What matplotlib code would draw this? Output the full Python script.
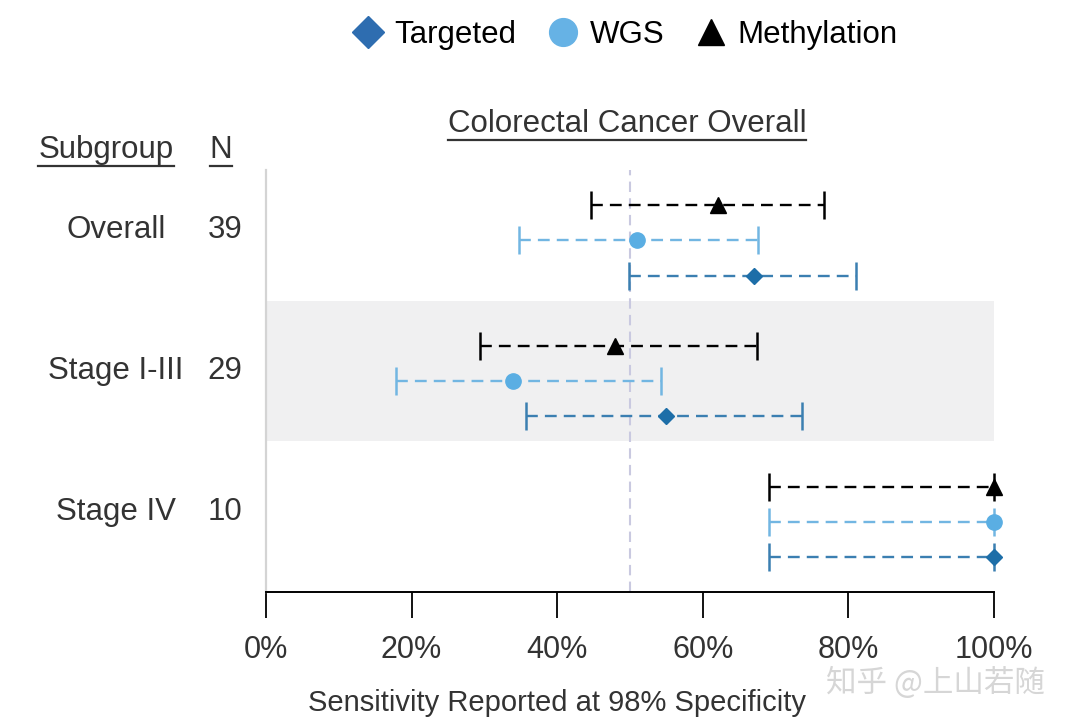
import matplotlib
matplotlib.use("Agg")
import matplotlib.pyplot as plt
from matplotlib.lines import Line2D
from matplotlib.transforms import blended_transform_factory

plt.rcParams['font.family'] = ['Liberation Sans', 'DejaVu Sans']

# values (sensitivity in %)
subgroups = ["Overall", "Stage I-III", "Stage IV"]
n_values = ["39", "29", "10"]

targeted_est = [67.0, 55.0, 100.0]
targeted_lo = [49.8, 35.7, 69.1]
targeted_hi = [81.0, 73.6, 100.0]

wgs_est = [51.0, 33.9, 100.0]
wgs_lo = [34.7, 17.9, 69.1]
wgs_hi = [67.6, 54.3, 100.0]

meth_est = [62.1, 48.0, 100.0]
meth_lo = [44.7, 29.4, 69.1]
meth_hi = [76.6, 67.5, 100.0]

x_ticks = [0, 20, 40, 60, 80, 100]
x_ticklabels = ["0%", "20%", "40%", "60%", "80%", "100%"]

text_col = '#333333'

fig = plt.figure(figsize=(10.8, 7.26), dpi=100)
ax = fig.add_axes([266 / 1080, 1 - 592 / 726, 728 / 1080, 422 / 726])

# shaded band behind the middle subgroup
ax.axhspan(0.43, 1.43, color='#f0f0f1', zorder=0, lw=0)
ax.axvline(50, color='#c9c9e0', ls=(0, (5, 3)), lw=1.5, zorder=1)

series = [
    ("Methylation", meth_est, meth_lo, meth_hi, -0.25, '^', 'black', 'black', 12),
    ("WGS", wgs_est, wgs_lo, wgs_hi, 0.0, 'o', '#5aaee3', '#72b6e2', 11),
    ("Targeted", targeted_est, targeted_lo, targeted_hi, 0.25, 'D', '#1d6ea8', '#3b7fb1', 8),
]

for name, est, lo, hi, off, mk, mcol, lcol, ms in series:
    for i in range(len(subgroups)):
        eb = ax.errorbar(est[i], i + off,
                         xerr=[[est[i] - lo[i]], [hi[i] - est[i]]],
                         fmt=mk, color=mcol, ecolor=lcol, ms=ms,
                         elinewidth=1.7, capsize=10, capthick=1.8,
                         zorder=3, clip_on=False)
        eb[2][0].set_linestyle((0, (5, 3)))

ax.set_xlim(0, 100)
ax.set_ylim(2.5, -0.5)
ax.set_yticks([])
ax.set_xticks(x_ticks)
ax.set_xticklabels(x_ticklabels, fontsize=22, color=text_col)
ax.tick_params(axis='x', direction='out', length=19, width=1.3, pad=12, color='black')

for s in ['top', 'right']:
    ax.spines[s].set_visible(False)
ax.spines['left'].set_color('#d4d4d4')
ax.spines['left'].set_linewidth(1.6)
ax.spines['bottom'].set_color('black')
ax.spines['bottom'].set_linewidth(1.4)

# row labels and N column
trans = blended_transform_factory(fig.transFigure, ax.transData)
for i in range(len(subgroups)):
    ax.text(116 / 1080, i - 0.07, subgroups[i], transform=trans, ha='center', va='center',
            fontsize=22.5, color=text_col)
    ax.text(225 / 1080, i - 0.07, n_values[i], transform=trans, ha='center', va='center',
            fontsize=22.5, color=text_col)

headers = [
    fig.text(106 / 1080, 1 - 150 / 726, "Subgroup", ha='center', va='center', fontsize=22.5, color=text_col),
    fig.text(221 / 1080, 1 - 150 / 726, "N", ha='center', va='center', fontsize=22.5, color=text_col),
    fig.text(627 / 1080, 1 - 124 / 726, "Colorectal Cancer Overall", ha='center', va='center',
             fontsize=22.5, color=text_col),
]

fig.text(557 / 1080, 1 - 703 / 726, "Sensitivity Reported at 98% Specificity", ha='center',
         va='center', fontsize=21, color=text_col)

fig.text(935 / 1080, 1 - 683 / 726, "知乎 @上山若随", ha='center', va='center', fontsize=22,
         color='#d6d6d6', family=['Noto Sans CJK SC', 'DejaVu Sans'])

# legend
handles = [
    Line2D([], [], ls='none', marker='D', ms=16, color='#2e6db0'),
    Line2D([], [], ls='none', marker='o', ms=20, color='#66b2e5'),
    Line2D([], [], ls='none', marker='^', ms=19, color='black'),
]
fig.legend(handles, ["Targeted", "WGS", "Methylation"], loc='center', ncol=3,
           bbox_to_anchor=(625 / 1080, 1 - 35 / 726), frameon=False, fontsize=22.5,
           handlelength=1.0, handletextpad=0.35, columnspacing=1.0)

# underline the headers
fig.canvas.draw()
renderer = fig.canvas.get_renderer()
for t in headers:
    bb = t.get_window_extent(renderer).transformed(fig.transFigure.inverted())
    fig.add_artist(Line2D([bb.x0, bb.x1], [bb.y0 - 0.002, bb.y0 - 0.002],
                          transform=fig.transFigure, color=text_col, lw=1.6))

fig.savefig("out.png", dpi=100)
